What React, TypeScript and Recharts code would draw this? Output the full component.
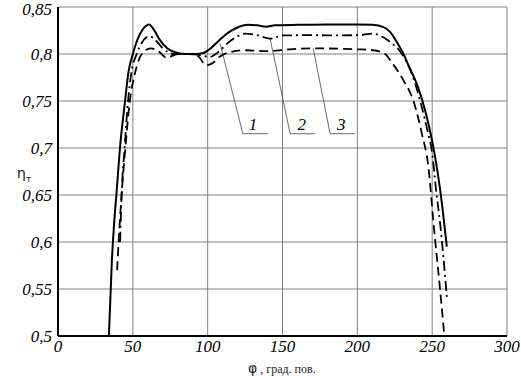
import { LineChart, Line, XAxis, YAxis, CartesianGrid, ReferenceLine, ReferenceDot } from 'recharts';

const X_TICKS = [0, 50, 100, 150, 200, 250, 300];
const Y_TICKS = [0.5, 0.55, 0.6, 0.65, 0.7, 0.75, 0.8, 0.85];

// curve 1 (solid)
const CURVE_1 = [
  { x: 34, y: 0.5 }, { x: 36, y: 0.58 }, { x: 37.5, y: 0.62 }, { x: 39, y: 0.65 },
  { x: 41.4, y: 0.7 }, { x: 44.8, y: 0.75 }, { x: 47, y: 0.78 }, { x: 50, y: 0.8 },
  { x: 53, y: 0.815 }, { x: 57, y: 0.827 }, { x: 60.8, y: 0.8315 }, { x: 64, y: 0.826 },
  { x: 68, y: 0.815 }, { x: 73, y: 0.806 }, { x: 80, y: 0.801 }, { x: 85, y: 0.8 },
  { x: 92, y: 0.8 }, { x: 97, y: 0.801 }, { x: 102, y: 0.806 }, { x: 108, y: 0.815 },
  { x: 115, y: 0.824 }, { x: 121, y: 0.829 }, { x: 127, y: 0.831 }, { x: 133, y: 0.8305 },
  { x: 139, y: 0.829 }, { x: 145, y: 0.8305 }, { x: 160, y: 0.831 }, { x: 180, y: 0.8315 },
  { x: 200, y: 0.8315 }, { x: 210, y: 0.831 }, { x: 217.5, y: 0.8286 }, { x: 222, y: 0.8233 },
  { x: 226.4, y: 0.8127 }, { x: 230.8, y: 0.8 }, { x: 235, y: 0.785 }, { x: 239.8, y: 0.768 },
  { x: 245.3, y: 0.74 }, { x: 249, y: 0.715 }, { x: 252, y: 0.69 }, { x: 255.3, y: 0.656 },
  { x: 259.8, y: 0.595 },
];

// curve 2 (dash-dot)
const CURVE_2 = [
  { x: 41.5, y: 0.6 }, { x: 42.5, y: 0.65 }, { x: 44.5, y: 0.7 }, { x: 46.8, y: 0.75 },
  { x: 49, y: 0.78 }, { x: 52.6, y: 0.8 }, { x: 56, y: 0.812 }, { x: 61, y: 0.819 },
  { x: 65, y: 0.815 }, { x: 70, y: 0.806 }, { x: 78, y: 0.8 }, { x: 86, y: 0.8 },
  { x: 94, y: 0.799 }, { x: 101.6, y: 0.797 }, { x: 107, y: 0.802 }, { x: 113, y: 0.811 },
  { x: 119, y: 0.818 }, { x: 125, y: 0.8216 }, { x: 133, y: 0.82 }, { x: 141.7, y: 0.8163 },
  { x: 150.4, y: 0.8198 }, { x: 170, y: 0.82 }, { x: 190, y: 0.8198 }, { x: 204, y: 0.8205 },
  { x: 210, y: 0.8216 }, { x: 216, y: 0.819 }, { x: 222, y: 0.8127 }, { x: 229.7, y: 0.8003 },
  { x: 236.4, y: 0.779 }, { x: 242, y: 0.75 }, { x: 247.3, y: 0.7155 }, { x: 249.5, y: 0.7 },
  { x: 253, y: 0.65 }, { x: 255.3, y: 0.62 }, { x: 259.8, y: 0.5415 },
];

// curve 3 (dashed)
const CURVE_3 = [
  { x: 39.5, y: 0.57 }, { x: 40.5, y: 0.6 }, { x: 42.5, y: 0.65 }, { x: 45, y: 0.7 },
  { x: 48, y: 0.75 }, { x: 51.5, y: 0.78 }, { x: 56, y: 0.8 }, { x: 62, y: 0.806 },
  { x: 67, y: 0.803 }, { x: 72.6, y: 0.796 }, { x: 80, y: 0.8 }, { x: 88, y: 0.8 },
  { x: 94, y: 0.797 }, { x: 99, y: 0.788 }, { x: 103, y: 0.79 }, { x: 108, y: 0.797 },
  { x: 115, y: 0.802 }, { x: 125, y: 0.804 }, { x: 140, y: 0.803 }, { x: 155, y: 0.805 },
  { x: 170, y: 0.806 }, { x: 188.5, y: 0.8056 }, { x: 200, y: 0.805 }, { x: 210.6, y: 0.804 },
  { x: 218.6, y: 0.8 }, { x: 222, y: 0.7932 }, { x: 230.8, y: 0.772 }, { x: 237.5, y: 0.75 },
  { x: 243.1, y: 0.7153 }, { x: 247.5, y: 0.6797 }, { x: 250.9, y: 0.62 }, { x: 255.3, y: 0.549 },
  { x: 258, y: 0.5025 },
];

// leader lines for the curve numbers: [from, knee, end] and label position
const LEADERS = [
  { name: '1', pts: [[108.3, 0.8113], [123.5, 0.7152], [140.6, 0.7152]], label: [130.3, 0.726] },
  { name: '2', pts: [[141.7, 0.8166], [155.1, 0.7152], [171.8, 0.7152]], label: [162.9, 0.726] },
  { name: '3', pts: [[170.5, 0.806], [181.8, 0.7152], [198.5, 0.7152]], label: [189.2, 0.726] },
];

const SERIF = '"Liberation Serif", "Times New Roman", serif';
const tickStyle = { fontFamily: SERIF, fontStyle: 'italic', fontSize: 17 };

const fmt = (v: number) => String(v).replace('.', ',');

const renderYTick = (props: any) => (
  <text key={'y' + props.payload.value} x={props.x} y={props.y} dy={6} textAnchor="end" fill="#000" style={tickStyle}>
    {fmt(props.payload.value)}
  </text>
);

const renderXTick = (props: any) => (
  <text key={'x' + props.payload.value} x={props.x} y={props.y} dy={16} textAnchor="middle" fill="#000" style={tickStyle}>
    {props.payload.value}
  </text>
);

const renderNum = (name: string) => (props: any) => {
  const vb = props.viewBox;
  const cx = vb.x + (vb.width || 0) / 2;
  const cy = vb.y + (vb.height || 0) / 2;
  return (
    <text x={cx} y={cy} dy={6} textAnchor="middle" fill="#000" style={tickStyle}>
      {name}
    </text>
  );
};

export default function App() {
  return (
    <div style={{ position: 'absolute', left: 0, top: 0, width: 521, height: 379, background: '#fff' }}>
      <LineChart width={521} height={379} margin={{ top: 7, right: 14, bottom: 13, left: 8 }}>
        <CartesianGrid stroke="#808080" strokeWidth={1} />
        <XAxis
          type="number"
          dataKey="x"
          domain={[0, 300]}
          ticks={X_TICKS}
          height={30}
          tickSize={0}
          tickMargin={0}
          tickLine={false}
          axisLine={{ stroke: '#000', strokeWidth: 2 }}
          tick={renderXTick}
        />
        <YAxis
          type="number"
          domain={[0.5, 0.85]}
          ticks={Y_TICKS}
          width={50}
          tickSize={0}
          tickMargin={6}
          tickLine={false}
          axisLine={{ stroke: '#000', strokeWidth: 2 }}
          tick={renderYTick}
          allowDataOverflow
        />
        {LEADERS.map((l) => (
          <ReferenceLine
            key={'a' + l.name}
            segment={[{ x: l.pts[0][0], y: l.pts[0][1] }, { x: l.pts[1][0], y: l.pts[1][1] }]}
            stroke="#444"
            strokeWidth={0.8}
          />
        ))}
        {LEADERS.map((l) => (
          <ReferenceLine
            key={'b' + l.name}
            segment={[{ x: l.pts[1][0], y: l.pts[1][1] }, { x: l.pts[2][0], y: l.pts[2][1] }]}
            stroke="#444"
            strokeWidth={0.8}
          />
        ))}
        {LEADERS.map((l) => (
          <ReferenceDot
            key={'c' + l.name}
            x={l.label[0]}
            y={l.label[1]}
            r={0}
            fill="none"
            stroke="none"
            label={{ content: renderNum(l.name) }}
          />
        ))}
        <Line data={CURVE_1} dataKey="y" type="monotone" stroke="#000" strokeWidth={2} dot={false} isAnimationActive={false} />
        <Line data={CURVE_2} dataKey="y" type="monotone" stroke="#000" strokeWidth={1.8} strokeDasharray="10 4 2 4" dot={false} isAnimationActive={false} />
        <Line data={CURVE_3} dataKey="y" type="monotone" stroke="#000" strokeWidth={1.8} strokeDasharray="9 5" dot={false} isAnimationActive={false} />
      </LineChart>
      <div style={{ position: 'absolute', left: 17, top: 165, fontFamily: '"DejaVu Sans", sans-serif', fontSize: 14, color: '#222' }}>
        η<sub style={{ fontSize: 9 }}>т</sub>
      </div>
      <div style={{ position: 'absolute', left: 248, top: 360, fontFamily: SERIF, fontSize: 12, color: '#222', whiteSpace: 'nowrap' }}>
        <span style={{ fontFamily: '"DejaVu Sans", sans-serif', fontSize: 14 }}>φ</span> , град. пов.
      </div>
    </div>
  );
}
